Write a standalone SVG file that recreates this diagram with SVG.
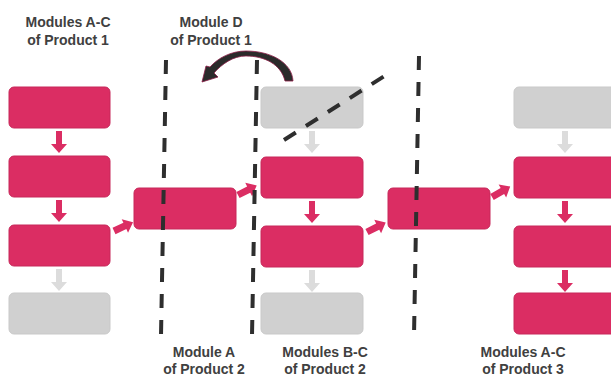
<svg xmlns="http://www.w3.org/2000/svg" width="611" height="376" viewBox="0 0 611 376">
<defs>
<style>
.pk{fill:#DB2D63;stroke:#C7285A;stroke-width:1}
.gy{fill:#D0D0D0;stroke:#C9C9C9;stroke-width:1}
.ap{fill:#DB2D63}
.ag{fill:#DCDCDC}
.dash{stroke:#2E2E2E;stroke-width:4;stroke-dasharray:14 12;fill:none}
.lbl{font-family:"Liberation Sans",Arial,sans-serif;font-weight:bold;font-size:14px;fill:#404040;text-anchor:middle}
</style>
<path id="darr" d="M-3,0 L3,0 L3,13 L8,13 L0,22 L-8,13 L-3,13 Z"/>
<path id="sarr" d="M0,-3.5 L12,-3.5 L12,-7.5 L21,0 L12,7.5 L12,3.5 L0,3.5 Z"/>
</defs>
<rect width="611" height="376" fill="#FFFFFF"/>

<g id="labels">
<text class="lbl" x="68" y="27">Modules A-C</text>
<text class="lbl" x="68" y="45">of Product 1</text>
<text class="lbl" x="211" y="27">Module D</text>
<text class="lbl" x="211" y="45">of Product 1</text>
<text class="lbl" x="204" y="357">Module A</text>
<text class="lbl" x="204" y="374">of Product 2</text>
<text class="lbl" x="325" y="357">Modules B-C</text>
<text class="lbl" x="325" y="374">of Product 2</text>
<text class="lbl" x="523" y="357">Modules A-C</text>
<text class="lbl" x="523" y="374">of Product 3</text>
</g>

<g id="product1">
<g id="p1-a"><rect class="pk" x="9" y="87" width="101" height="41" rx="5"/></g>
<g id="p1-b"><rect class="pk" x="9" y="156" width="101" height="41" rx="5"/></g>
<g id="p1-c"><rect class="pk" x="9" y="225" width="101" height="41" rx="5"/></g>
<g id="p1-d"><rect class="gy" x="9" y="293" width="101" height="41" rx="5"/></g>
</g>
<g id="product2-a"><rect class="pk" x="134" y="188" width="102" height="41" rx="5"/></g>
<g id="product2">
<g id="p2-d"><rect class="gy" x="261" y="87" width="102" height="41" rx="5"/></g>
<g id="p2-b"><rect class="pk" x="261" y="157" width="102" height="41" rx="5"/></g>
<g id="p2-c"><rect class="pk" x="261" y="226" width="102" height="41" rx="5"/></g>
<g id="p2-x"><rect class="gy" x="261" y="293" width="102" height="41" rx="5"/></g>
</g>
<g id="product3-a"><rect class="pk" x="388" y="188" width="102" height="41" rx="5"/></g>
<g id="product3">
<g id="p3-d"><rect class="gy" x="514" y="87" width="102" height="41" rx="5"/></g>
<g id="p3-a"><rect class="pk" x="514" y="157" width="102" height="41" rx="5"/></g>
<g id="p3-b"><rect class="pk" x="514" y="226" width="102" height="41" rx="5"/></g>
<g id="p3-c"><rect class="pk" x="514" y="293" width="102" height="41" rx="5"/></g>
</g>

<g id="connectors">
<use href="#darr" class="ap" x="59" y="131"/>
<use href="#darr" class="ap" x="59" y="200"/>
<use href="#darr" class="ag" x="59" y="269"/>
<use href="#darr" class="ag" x="312" y="131"/>
<use href="#darr" class="ap" x="312" y="201"/>
<use href="#darr" class="ag" x="312" y="270"/>
<use href="#darr" class="ag" x="565" y="131"/>
<use href="#darr" class="ap" x="565" y="201"/>
<use href="#darr" class="ap" x="565" y="270"/>
<use href="#sarr" class="ap" transform="translate(114,231) rotate(-25)"/>
<use href="#sarr" class="ap" transform="translate(238,195) rotate(-27)"/>
<use href="#sarr" class="ap" transform="translate(367,232) rotate(-27)"/>
<use href="#sarr" class="ap" transform="translate(492,197) rotate(-30)"/>
</g>

<g id="dividers">
<line class="dash" x1="166" y1="60" x2="161" y2="336"/>
<line class="dash" x1="257" y1="60" x2="252" y2="336"/>
<line class="dash" x1="419" y1="56" x2="414" y2="336"/>
<line class="dash" x1="284" y1="140" x2="386" y2="75"/>
</g>

<g id="curved-arrow">
<path d="M293,81 C292,62 270,51 246,51 C231,51 218,58 210,67 L206,66 L202,82 L218,77 L214,73 C222,64 233,56 246,56 C264,56 281,64 285,81 Z" fill="#2B2B2B" stroke="#8A1C45" stroke-width="0.8" stroke-linejoin="round"/>
</g>
</svg>
